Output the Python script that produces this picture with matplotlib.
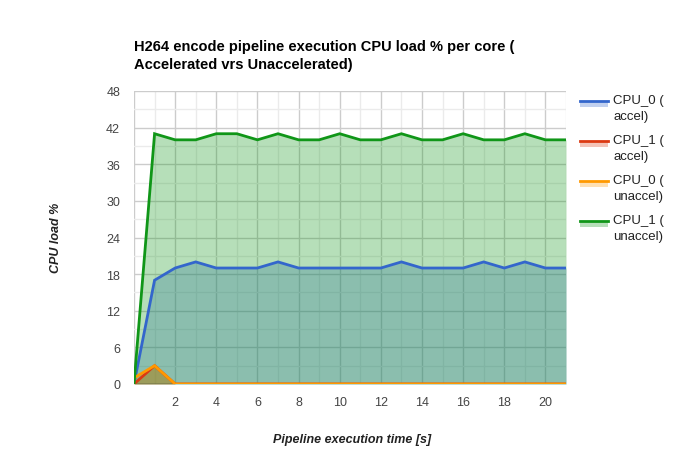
import matplotlib
matplotlib.use("Agg")
import matplotlib.pyplot as plt
from matplotlib.lines import Line2D
from matplotlib.patches import Rectangle

plt.rcParams['font.family'] = ['Liberation Sans', 'DejaVu Sans']

time_s = list(range(0, 22))
cpu0_accel = [0, 17, 19, 20, 19, 19, 19, 20, 19, 19, 19, 19, 19, 20, 19, 19, 19, 20, 19, 20, 19, 19]
cpu1_accel = [0, 3, 0, 0, 0, 0, 0, 0, 0, 0, 0, 0, 0, 0, 0, 0, 0, 0, 0, 0, 0, 0]
cpu0_unaccel = [1, 3, 0, 0, 0, 0, 0, 0, 0, 0, 0, 0, 0, 0, 0, 0, 0, 0, 0, 0, 0, 0]
cpu1_unaccel = [0, 41, 40, 40, 41, 41, 40, 41, 40, 40, 41, 40, 40, 41, 40, 40, 41, 40, 40, 41, 40, 40]

series_names = ["CPU_0 (\naccel)", "CPU_1 (\naccel)", "CPU_0 (\nunaccel)", "CPU_1 (\nunaccel)"]
series_values = [cpu0_accel, cpu1_accel, cpu0_unaccel, cpu1_unaccel]
colors = ["#3366cc", "#dc3912", "#ff9900", "#109618"]

y_ticks = [0, 6, 12, 18, 24, 30, 36, 42, 48]
x_ticks = [2, 4, 6, 8, 10, 12, 14, 16, 18, 20]

W, H = 700, 477
fig = plt.figure(figsize=(W / 100, H / 100), dpi=100)
ax = fig.add_axes([134 / W, 1 - 385 / H, (566 - 134) / W, (385 - 92) / H])

ax.set_xlim(0, 21)
ax.set_ylim(0, 48)

# gridlines
for v in range(0, 22):
    ax.axvline(v, color="#cccccc" if v % 2 == 0 else "#ebebeb", lw=1, zorder=0)
for v in range(0, 49, 3):
    ax.axhline(v, color="#cccccc" if v % 6 == 0 else "#ebebeb", lw=1, zorder=0)

for vals, c in zip(series_values, colors):
    ax.fill_between(time_s, 0, vals, color=c, alpha=0.3, lw=0, zorder=1)
for i, (vals, c) in enumerate(zip(series_values, colors)):
    ax.plot(time_s, vals, color=c, lw=2, zorder=2 + i, solid_joinstyle="miter")

ax.axhline(0, color="#333333", lw=1, zorder=1.5)

for s in ax.spines.values():
    s.set_visible(False)
ax.set_xticks(x_ticks)
ax.set_yticks(y_ticks)
ax.tick_params(length=0, labelsize=9, labelcolor="#444444")
ax.tick_params(axis="y", pad=10)
ax.tick_params(axis="x", pad=9)

fig.text(134 / W, 1 - 47 / H, "H264 encode pipeline execution CPU load % per core (",
         fontsize=10.5, fontweight="bold", va="center", ha="left", color="#000000")
fig.text(134 / W, 1 - 65 / H, "Accelerated vrs Unaccelerated)",
         fontsize=10.5, fontweight="bold", va="center", ha="left", color="#000000")

fig.text(56 / W, 1 - 238 / H, "CPU load %", rotation=90, fontsize=9, fontweight="bold",
         fontstyle="italic", va="center", ha="center", color="#222222")
fig.text(352 / W, 1 - 440 / H, "Pipeline execution time [s]", fontsize=9, fontweight="bold",
         fontstyle="italic", va="center", ha="center", color="#222222")

# legend
for i, (name, c) in enumerate(zip(series_names, colors)):
    y = 102 + i * 40
    fig.patches.append(Rectangle((580 / W, 1 - (y + 6) / H), 28 / W, 6 / H,
                                 transform=fig.transFigure, color=c, alpha=0.3, lw=0))
    fig.lines.append(Line2D([580 / W, 608 / W], [1 - y / H, 1 - y / H],
                            transform=fig.transFigure, color=c, lw=2))
    fig.text(613 / W, 1 - (y - 7) / H, name, fontsize=9.5, va="top", ha="left",
             color="#222222", linespacing=1.45)

fig.savefig("out.png", dpi=100, facecolor="white")
